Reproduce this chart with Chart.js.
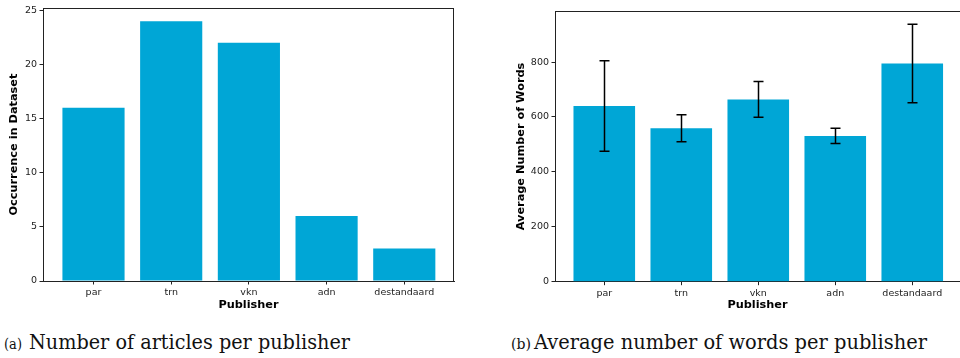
<!DOCTYPE html>
<html>
<head>
<meta charset="utf-8">
<script src="https://cdn.jsdelivr.net/npm/chart.js@4.4.1/dist/chart.umd.min.js"></script>
<style>
  html, body { margin: 0; padding: 0; background: #fff; overflow: hidden; width: 960px; height: 358px; }
  #c1 { position: absolute; left: 0; top: 0; }
  #c2 { position: absolute; left: 480px; top: 0; }
  .cap { position: absolute; top: 328px; white-space: nowrap; font-family: "DejaVu Serif", serif; color: #111; line-height: 28px; }
  .cap .tag { display: inline-block; font-size: 14.5px; transform-origin: 0 50%; }
  .cap .txt { display: inline-block; font-size: 20px; transform-origin: 0 50%; }
</style>
</head>
<body>
<canvas id="c1" width="480" height="320"></canvas>
<canvas id="c2" width="480" height="320"></canvas>
<div class="cap" id="capA" style="left:4px"><span class="tag" data-w="18" style="width:25.3px">(a)</span><span class="txt" data-w="321">Number of articles per publisher</span></div>
<div class="cap" id="capB" style="left:510.5px"><span class="tag" data-w="20" style="width:23.5px">(b)</span><span class="txt" data-w="393">Average number of words per publisher</span></div>
<script>
// Publishers and the two measured series
const publishers = ['par', 'trn', 'vkn', 'adn', 'destandaard'];
const articleCounts = [16, 24, 22, 6, 3];
const avgWords = [640, 559, 664, 531, 795];
const wordsStd = [165, 49, 65, 28, 143];
const countTicks = [0, 5, 10, 15, 20, 25];
const wordTicks = [0, 200, 400, 600, 800];

const BAR_COLOR = '#00a6d6';
const INK = '#222222';
const TICK_FONT = { family: 'DejaVu Sans', size: 9.5 };
const TITLE_FONT = { family: 'DejaVu Sans', size: 11.3, weight: 'bold', lineHeight: 1 };

// Top/right spines (left and bottom come from the axis borders)
const framePlugin = {
  id: 'frame',
  afterDraw(chart, args, opts) {
    const { ctx, chartArea: a } = chart;
    ctx.save();
    ctx.strokeStyle = INK;
    ctx.lineWidth = 1;
    ctx.beginPath();
    const top = Math.round(a.top) + 0.5;
    ctx.moveTo(a.left, top);
    ctx.lineTo(a.right, top);
    if (opts.right) {
      const r = Math.round(a.right) - 0.5;
      ctx.moveTo(r, a.top);
      ctx.lineTo(r, a.bottom);
    }
    ctx.stroke();
    ctx.restore();
  }
};

// Symmetric error bars with caps, positioned through the chart scales
const errorBarPlugin = {
  id: 'errorBars',
  afterDatasetsDraw(chart, args, opts) {
    if (!opts.errors) return;
    const { ctx, scales: { x, y } } = chart;
    const values = chart.data.datasets[0].data;
    ctx.save();
    ctx.strokeStyle = '#000';
    ctx.lineWidth = 1.5;
    values.forEach((p, i) => {
      const err = opts.errors[i];
      const px = Math.round(x.getPixelForValue(p.x)) + 0.5;
      const yTop = y.getPixelForValue(p.y + err);
      const yBot = y.getPixelForValue(p.y - err);
      ctx.beginPath();
      ctx.moveTo(px, yTop);
      ctx.lineTo(px, yBot);
      ctx.moveTo(px - 5, yTop);
      ctx.lineTo(px + 5, yTop);
      ctx.moveTo(px - 5, yBot);
      ctx.lineTo(px + 5, yBot);
      ctx.stroke();
    });
    ctx.restore();
  }
};

function makeChart(canvasId, cfg) {
  const points = cfg.values.map((v, i) => ({ x: i, y: v }));
  return new Chart(document.getElementById(canvasId), {
    type: 'bar',
    data: {
      datasets: [{
        data: points,
        backgroundColor: BAR_COLOR,
        borderWidth: 0,
        inflateAmount: 0,
        categoryPercentage: 1,
        barPercentage: 0.8
      }]
    },
    plugins: [framePlugin, errorBarPlugin],
    options: {
      responsive: false,
      animation: false,
      layout: { padding: { left: 0, right: cfg.padRight, top: cfg.padTop, bottom: 0 } },
      plugins: {
        legend: { display: false },
        tooltip: { enabled: false },
        frame: { right: cfg.rightSpine },
        errorBars: { errors: cfg.errors || null }
      },
      scales: {
        x: {
          type: 'linear',
          offset: false,
          min: cfg.xMin,
          max: cfg.xMax,
          afterBuildTicks: s => { s.ticks = publishers.map((_, i) => ({ value: i })); },
          afterFit: s => { s.height = cfg.xAxisHeight; },
          grid: { display: true, offset: false, drawOnChartArea: false, drawTicks: true, tickLength: 3.5, color: INK, lineWidth: 1 },
          border: { display: true, color: INK, width: 1 },
          ticks: {
            autoSkip: false, maxRotation: 0, padding: 2.5,
            color: INK, font: TICK_FONT,
            callback: v => publishers[v]
          },
          title: { display: true, text: 'Publisher', color: '#000', font: TITLE_FONT, padding: { top: 0, bottom: 9 } }
        },
        y: {
          type: 'linear',
          min: 0,
          max: cfg.yMax,
          afterBuildTicks: s => { s.ticks = cfg.yTicks.map(v => ({ value: v })); },
          afterFit: s => { s.width = cfg.yWidth; },
          grid: { display: true, drawOnChartArea: false, drawTicks: true, tickLength: 3.5, color: INK, lineWidth: 1 },
          border: { display: true, color: INK, width: 1 },
          ticks: { padding: 2.5, color: INK, font: TICK_FONT },
          title: { display: true, text: cfg.yTitle, color: '#000', font: TITLE_FONT, padding: { top: cfg.yTitlePad, bottom: 0 } }
        }
      }
    }
  });
}

makeChart('c1', {
  values: articleCounts, yTicks: countTicks, yMax: 25.2, yTitle: 'Occurrence in Dataset',
  yWidth: 43, yTitlePad: 8.85, padRight: 26, padTop: 7.3, xAxisHeight: 39,
  xMin: -0.65, xMax: 4.64, rightSpine: true
});

makeChart('c2', {
  values: avgWords, errors: wordsStd, yTicks: wordTicks, yMax: 985, yTitle: 'Average Number of Words',
  yWidth: 75, yTitlePad: 35, padRight: 0, padTop: 11.3, xAxisHeight: 38.3,
  xMin: -0.64, xMax: 4.62, rightSpine: false
});

// Fit each caption piece to its measured column width
function fitCaptions() {
  document.querySelectorAll('.cap [data-w]').forEach(el => {
    el.style.transform = '';
    const target = parseFloat(el.dataset.w);
    const range = document.createRange();
    range.selectNodeContents(el);
    const w = range.getBoundingClientRect().width;
    if (w > 0) el.style.transform = 'scaleX(' + (target / w) + ')';
  });
}
fitCaptions();
</script>
</body>
</html>
